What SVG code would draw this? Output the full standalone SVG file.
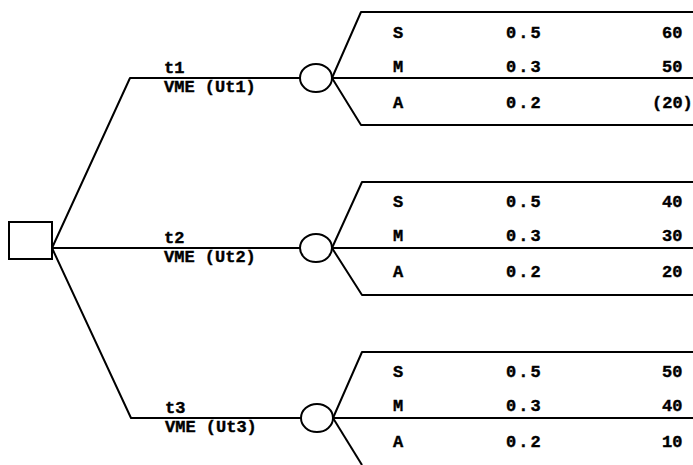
<svg xmlns="http://www.w3.org/2000/svg" width="693" height="465" viewBox="0 0 693 465">
  <style>
    .ln { fill: none; stroke: #000; stroke-width: 2; stroke-linejoin: round; }
    .nd { fill: #fff; stroke: #000; stroke-width: 2; }
    text { font-family: "Liberation Mono", "DejaVu Sans Mono", monospace; font-weight: bold; font-size: 17px; fill: #000; stroke: #000; stroke-width: 0.4px; }
    .pr { letter-spacing: 2px; }
  </style>
  <rect width="693" height="465" fill="#fff"/>

  <!-- connectors -->
  <g id="connectors" class="ln">
    <!-- decision branches -->
    <polyline points="52,248 130,78 300,78"/>
    <line x1="52" y1="248" x2="300" y2="248"/>
    <polyline points="52,248 131,418 301,418"/>
    <!-- outcome branches, alternative 1 -->
    <polyline points="332,78 361,12 693,12"/>
    <line x1="332" y1="78" x2="693" y2="78"/>
    <polyline points="332,78 361,125 693,125"/>
    <!-- outcome branches, alternative 2 -->
    <polyline points="332,248 362,182 693,182"/>
    <line x1="332" y1="248" x2="693" y2="248"/>
    <polyline points="332,248 362,295 693,295"/>
    <!-- outcome branches, alternative 3 -->
    <polyline points="333,418 362,352 693,352"/>
    <line x1="333" y1="418" x2="693" y2="418"/>
    <polyline points="333,418 362,465"/>
  </g>

  <!-- decision node -->
  <g id="decision">
    <rect class="nd" x="9" y="222" width="43" height="37"/>
  </g>

  <!-- alternative t1 -->
  <g id="alt-t1">
    <text x="164" y="73">t1</text>
    <text x="164" y="92">VME (Ut1)</text>
    <ellipse class="nd" cx="316" cy="78" rx="16" ry="14"/>
    <text x="393" y="38">S</text><text class="pr" x="506" y="38">0.5</text><text x="662" y="38">60</text>
    <text x="393" y="72">M</text><text class="pr" x="506" y="72">0.3</text><text x="662" y="72">50</text>
    <text x="393" y="108">A</text><text class="pr" x="506" y="108">0.2</text><text x="652" y="108">(20)</text>
  </g>

  <!-- alternative t2 -->
  <g id="alt-t2">
    <text x="164" y="243">t2</text>
    <text x="164" y="262">VME (Ut2)</text>
    <ellipse class="nd" cx="316" cy="248" rx="16" ry="14"/>
    <text x="393" y="207">S</text><text class="pr" x="506" y="207">0.5</text><text x="662" y="207">40</text>
    <text x="393" y="241">M</text><text class="pr" x="506" y="241">0.3</text><text x="662" y="241">30</text>
    <text x="393" y="277">A</text><text class="pr" x="506" y="277">0.2</text><text x="662" y="277">20</text>
  </g>

  <!-- alternative t3 -->
  <g id="alt-t3">
    <text x="165" y="413">t3</text>
    <text x="165" y="432">VME (Ut3)</text>
    <ellipse class="nd" cx="317" cy="418" rx="16" ry="14"/>
    <text x="393" y="377">S</text><text class="pr" x="506" y="377">0.5</text><text x="662" y="377">50</text>
    <text x="393" y="411">M</text><text class="pr" x="506" y="411">0.3</text><text x="662" y="411">40</text>
    <text x="393" y="447">A</text><text class="pr" x="506" y="447">0.2</text><text x="662" y="447">10</text>
  </g>
</svg>
